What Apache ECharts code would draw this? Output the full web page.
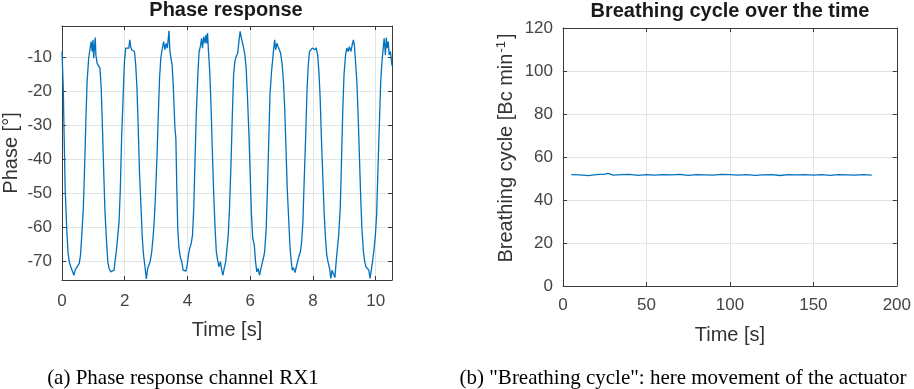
<!DOCTYPE html>
<html>
<head>
<meta charset="utf-8">
<script src="https://cdn.jsdelivr.net/npm/echarts@6/dist/echarts.min.js"></script>
<style>
  html, body { margin: 0; padding: 0; background: #fff; }
  #chart { width: 914px; height: 389px; }
</style>
</head>
<body>
<div id="chart"></div>
<script>
// (a) phase response
const phaseTime = [
  0.00, 0.04, 0.07, 0.10, 0.15, 0.19, 0.23, 0.28, 0.34, 0.38, 0.42, 0.46, 0.51, 0.55, 0.59, 0.63, 0.68, 0.72, 0.76, 0.80,
  0.85, 0.89, 0.93, 0.96, 0.99, 1.01, 1.06, 1.08, 1.12, 1.16, 1.21, 1.25, 1.29, 1.33, 1.37, 1.42, 1.46, 1.50, 1.55, 1.61,
  1.66, 1.69, 1.73, 1.78, 1.82, 1.86, 1.90, 1.95, 1.99, 2.03, 2.07, 2.13, 2.16, 2.19, 2.22, 2.26, 2.31, 2.35, 2.39, 2.43,
  2.47, 2.52, 2.56, 2.60, 2.64, 2.69, 2.73, 2.77, 2.81, 2.86, 2.90, 2.94, 2.98, 3.03, 3.07, 3.11, 3.15, 3.19, 3.24, 3.28,
  3.32, 3.36, 3.41, 3.44, 3.47, 3.51, 3.55, 3.60, 3.63, 3.66, 3.69, 3.73, 3.78, 3.82, 3.86, 3.90, 3.95, 3.99, 4.03, 4.07,
  4.12, 4.16, 4.20, 4.24, 4.28, 4.33, 4.37, 4.41, 4.45, 4.48, 4.52, 4.56, 4.59, 4.62, 4.64, 4.67, 4.71, 4.75, 4.79, 4.83,
  4.88, 4.92, 4.96, 5.00, 5.05, 5.09, 5.13, 5.17, 5.22, 5.26, 5.30, 5.34, 5.39, 5.43, 5.47, 5.51, 5.55, 5.60, 5.64, 5.68,
  5.71, 5.75, 5.79, 5.83, 5.87, 5.91, 5.96, 6.00, 6.04, 6.08, 6.13, 6.17, 6.21, 6.25, 6.30, 6.34, 6.38, 6.42, 6.46, 6.51,
  6.55, 6.59, 6.63, 6.68, 6.72, 6.75, 6.78, 6.81, 6.85, 6.89, 6.93, 6.97, 7.02, 7.06, 7.10, 7.14, 7.18, 7.23, 7.27, 7.31,
  7.34, 7.38, 7.43, 7.47, 7.51, 7.55, 7.60, 7.64, 7.68, 7.72, 7.77, 7.81, 7.85, 7.89, 7.94, 7.98, 8.02, 8.06, 8.10, 8.15,
  8.19, 8.23, 8.27, 8.32, 8.36, 8.40, 8.44, 8.49, 8.53, 8.57, 8.61, 8.65, 8.70, 8.74, 8.78, 8.82, 8.87, 8.91, 8.95, 8.99,
  9.04, 9.08, 9.12, 9.16, 9.21, 9.25, 9.29, 9.32, 9.35, 9.40, 9.44, 9.48, 9.52, 9.56, 9.61, 9.65, 9.69, 9.73, 9.78, 9.82,
  9.86, 9.90, 9.95, 9.99, 10.03, 10.07, 10.12, 10.16, 10.20, 10.24, 10.27, 10.31, 10.34, 10.37, 10.40, 10.43, 10.47, 10.52
];
const phaseValue = [
  -8.3, -19.1, -33.9, -48.6, -60.4, -67.3, -70.2, -71.7, -72.2, -74.2, -72.7, -72.0, -72.2, -70.7, -68.3, -62.4, -54.5, -42.7, -29.0, -17.2,
  -10.3, -7.8, -5.4, -8.3, -4.9, -10.3, -4.2, -9.3, -11.8, -12.3, -13.2, -19.1, -30.9, -43.7, -55.5, -64.3, -70.2, -72.2, -73.2, -73.4,
  -72.7, -70.2, -67.3, -62.4, -58.4, -48.6, -33.9, -21.1, -11.3, -7.3, -6.9, -7.3, -4.9, -6.9, -7.8, -7.3, -8.3, -12.3, -19.1, -30.9,
  -43.7, -54.5, -63.3, -68.3, -71.2, -75.3, -72.2, -72.7, -70.2, -67.3, -63.3, -58.4, -50.6, -38.8, -27.0, -16.2, -10.3, -7.8, -5.4, -7.8,
  -5.9, -7.3, -2.2, -8.3, -8.8, -12.3, -19.1, -30.9, -33.9, -48.6, -60.4, -66.3, -69.2, -70.2, -72.7, -73.2, -73.0, -71.2, -68.3, -66.3,
  -64.8, -62.4, -54.5, -40.7, -27.0, -15.2, -8.3, -6.9, -4.4, -7.3, -3.9, -5.9, -3.4, -5.9, -2.9, -8.3, -14.2, -24.0, -36.8, -48.6,
  -60.4, -67.3, -69.7, -71.7, -70.2, -72.7, -74.2, -72.2, -70.2, -66.3, -62.4, -54.5, -40.7, -27.0, -15.2, -11.3, -9.8, -8.8, -5.4, -2.4,
  -3.9, -4.4, -7.3, -9.3, -13.2, -21.1, -32.9, -44.7, -56.5, -63.3, -65.3, -70.2, -73.2, -72.2, -74.2, -72.2, -72.7, -69.2, -67.3, -60.4,
  -48.6, -34.9, -21.1, -14.2, -10.3, -7.3, -4.9, -7.8, -5.9, -6.9, -7.8, -8.8, -12.3, -17.2, -25.0, -36.8, -48.6, -58.4, -66.3, -70.2,
  -72.7, -72.0, -73.4, -71.7, -71.2, -68.7, -67.3, -64.3, -58.4, -46.6, -32.9, -20.1, -12.3, -8.3, -7.8, -7.3, -6.9, -7.8, -7.2, -9.3,
  -14.2, -22.1, -33.9, -46.6, -56.5, -63.3, -68.3, -70.7, -72.2, -75.1, -72.7, -72.2, -74.9, -70.2, -66.3, -62.4, -54.5, -40.7, -26.0, -15.2,
  -9.3, -7.3, -8.3, -6.9, -8.3, -6.4, -4.9, -6.4, -10.3, -17.2, -27.0, -38.8, -50.6, -60.4, -67.3, -70.2, -71.7, -71.2, -72.7, -75.1,
  -72.7, -70.2, -66.3, -62.4, -56.5, -43.7, -29.0, -17.2, -11.3, -7.3, -4.4, -9.3, -4.2, -7.3, -5.4, -9.3, -8.3, -12.5
];
const phaseTicksX = [0, 2, 4, 6, 8, 10];
const phaseTicksY = [-70, -60, -50, -40, -30, -20, -10];

// (b) breathing cycle over the time
const breathTime = [5, 10, 15, 20, 25, 27, 30, 35, 40, 45, 50, 55, 60, 65, 70, 75, 80, 85, 90, 95,
  100, 105, 110, 115, 120, 125, 130, 135, 140, 145, 150, 155, 160, 165, 170, 175, 180, 185];
const breathValue = [51.8, 51.7, 51.3, 51.8, 52.0, 52.4, 51.6, 51.8, 51.9, 51.5, 51.8, 51.6, 51.8, 51.7, 51.9, 51.5, 51.8, 51.7, 51.6, 51.9,
  51.8, 51.6, 51.8, 51.5, 51.7, 51.8, 51.4, 51.8, 51.7, 51.8, 51.6, 51.8, 51.5, 51.8, 51.7, 51.6, 51.8, 51.6];
const breathTicksX = [0, 50, 100, 150, 200];
const breathTicksY = [0, 20, 40, 60, 80, 100, 120];

const SANS = '"Liberation Sans", Arial, Helvetica, sans-serif';
const SERIF = '"Liberation Serif", "Times New Roman", serif';
const FRAME = '#3a3a3a';
const LINE = '#0072BD';

const chart = echarts.init(document.getElementById('chart'), null, { renderer: 'canvas' });

function mainAxis(grid, position, range, ticks, name, nameGap, labelMargin, extra) {
  return Object.assign({
    type: 'value',
    gridIndex: grid,
    position: position,
    min: range[0],
    max: range[1],
    name: name,
    nameLocation: 'middle',
    nameGap: nameGap,
    nameTextStyle: { fontFamily: SANS, fontSize: 20, color: '#333' },
    axisLine: { show: true, onZero: false, lineStyle: { color: FRAME, width: 1 } },
    axisTick: { show: true, inside: true, length: 4, customValues: ticks, lineStyle: { color: FRAME } },
    axisLabel: { customValues: ticks, fontFamily: SANS, fontSize: 17, color: '#444', margin: labelMargin },
    splitLine: { show: true, lineStyle: { color: '#e3e3e3', width: 1 } }
  }, extra || {});
}

// box edges on top/right, with inward ticks like the original
function mirrorAxis(grid, position, range, ticks) {
  return {
    type: 'value',
    gridIndex: grid,
    position: position,
    min: range[0],
    max: range[1],
    axisLine: { show: true, onZero: false, lineStyle: { color: FRAME, width: 1 } },
    axisTick: { show: true, inside: true, length: 4, customValues: ticks, lineStyle: { color: FRAME } },
    axisLabel: { show: false },
    splitLine: { show: false }
  };
}

const phaseRangeX = [0, 10.52];
const phaseRangeY = [-75.6, -0.8];
const breathRangeX = [0, 200];
const breathRangeY = [0, 120];

const option = {
  animation: false,
  title: [
    { text: 'Phase response', left: 226, top: 0, padding: 0, textAlign: 'center',
      textStyle: { fontFamily: SANS, fontSize: 20, fontWeight: 'bold', color: '#1a1a1a' } },
    { text: 'Breathing cycle over the time', left: 730, top: 1, padding: 0, textAlign: 'center',
      textStyle: { fontFamily: SANS, fontSize: 20, fontWeight: 'bold', color: '#1a1a1a' } }
  ],
  grid: [
    { left: 61, top: 26, right: 522, bottom: 109 },
    { left: 563, top: 28, right: 16, bottom: 103 }
  ],
  xAxis: [
    mainAxis(0, 'bottom', phaseRangeX, phaseTicksX, 'Time [s]', 40, 13),
    mirrorAxis(0, 'top', phaseRangeX, phaseTicksX),
    mainAxis(1, 'bottom', breathRangeX, breathTicksX, 'Time [s]', 39, 11),
    mirrorAxis(1, 'top', breathRangeX, breathTicksX)
  ],
  yAxis: [
    mainAxis(0, 'left', phaseRangeY, phaseTicksY, 'Phase [°]', 41, 10),
    mirrorAxis(0, 'right', phaseRangeY, phaseTicksY),
    mainAxis(1, 'left', breathRangeY, breathTicksY, 'Breathing cycle [Bc min{sup|-1}]', 45, 10, {
      nameTextStyle: {
        fontFamily: SANS, fontSize: 20, color: '#333', padding: [0, 0, 0, 18],
        rich: { sup: { fontFamily: SANS, fontSize: 13, color: '#333', verticalAlign: 'top', padding: [0, 2, 10, 1] } }
      }
    }),
    mirrorAxis(1, 'right', breathRangeY, breathTicksY)
  ],
  series: [
    {
      type: 'line', xAxisIndex: 0, yAxisIndex: 0, showSymbol: false,
      lineStyle: { color: LINE, width: 1.3 },
      data: phaseTime.map((t, i) => [t, phaseValue[i]])
    },
    {
      type: 'line', xAxisIndex: 2, yAxisIndex: 2, showSymbol: false,
      lineStyle: { color: LINE, width: 1.3 },
      data: breathTime.map((t, i) => [t, breathValue[i]])
    }
  ],
  graphic: [
    { type: 'text', x: 183, y: 378,
      style: { text: '(a) Phase response channel RX1', font: '21px ' + SERIF, fill: '#000', textAlign: 'center', textVerticalAlign: 'middle' } },
    { type: 'text', x: 683, y: 378,
      style: { text: '(b) "Breathing cycle": here movement of the actuator', font: '21px ' + SERIF, fill: '#000', textAlign: 'center', textVerticalAlign: 'middle' } }
  ]
};

chart.setOption(option);
</script>
</body>
</html>
